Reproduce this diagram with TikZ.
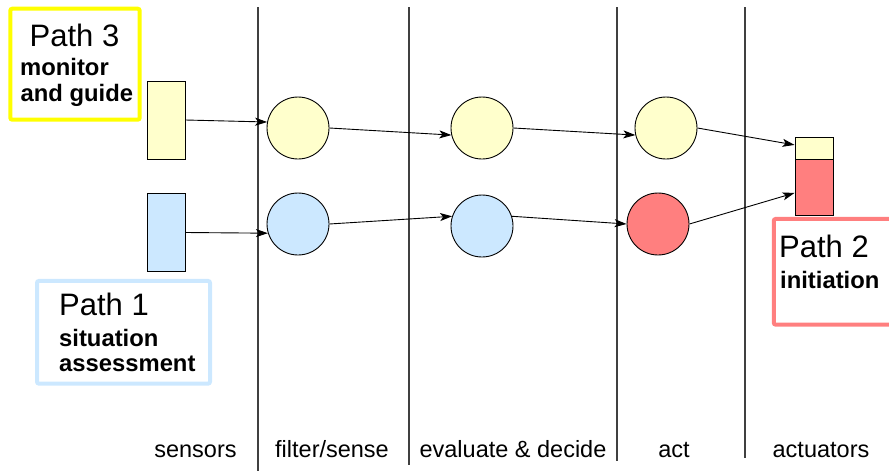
\documentclass[tikz,border=0pt]{standalone}
\usepackage{fontspec}
\setmainfont{Liberation Sans}
\usetikzlibrary{arrows.meta}

\definecolor{paleyellow}{HTML}{FFFFCC}
\definecolor{paleblue}{HTML}{CCE8FF}
\definecolor{salmon}{HTML}{FF7F7F}
\definecolor{brightyellow}{HTML}{FFFF00}
\definecolor{lanegray}{HTML}{404040}

\tikzset{
  lane/.style={draw=lanegray, line width=1.2pt},
  sensorbox/.style={draw=black, line width=0.9pt, minimum width=38pt, minimum height=78pt, inner sep=0pt},
  unit/.style={circle, draw=black, line width=0.9pt, minimum size=62pt, inner sep=0pt},
  actbox/.style={draw=black, line width=0.9pt, minimum width=38pt, inner sep=0pt},
  flow/.style={draw=black, line width=0.9pt, -{Stealth[length=12pt, width=8pt, inset=3pt]}},
  pathbox/.style={line width=4pt, rounded corners=2pt, inner sep=0pt},
  pathtitle/.style={anchor=base west, inner sep=0pt, font=\fontsize{31}{37}\selectfont},
  pathsub/.style={anchor=base west, inner sep=0pt, font=\fontsize{23.8}{28}\selectfont\bfseries},
  stage/.style={anchor=base, inner sep=0pt, font=\fontsize{23.5}{28}\selectfont},
}

\begin{document}
\begin{tikzpicture}[x=1pt, y=-1pt]
  \clip (0,0) rectangle (889,471);

  % stage separators
  \coordinate (l1t) at (258,7);   \coordinate (l1b) at (258,471);
  \coordinate (l2t) at (409,7);   \coordinate (l2b) at (409,465);
  \coordinate (l3t) at (617,7);   \coordinate (l3b) at (617,461);
  \coordinate (l4t) at (745,7);   \coordinate (l4b) at (745,458);
  \draw[lane] (l1t) -- (l1b);
  \draw[lane] (l2t) -- (l2b);
  \draw[lane] (l3t) -- (l3b);
  \draw[lane] (l4t) -- (l4b);

  % path legend boxes
  \node[pathbox, draw=brightyellow, minimum width=129.4pt, minimum height=111pt] (p3box) at (75,64.2) {};
  \node[pathbox, draw=paleblue, minimum width=173pt, minimum height=102.7pt] (p1box) at (123.5,332.3) {};
  \node[pathbox, draw=salmon, minimum width=126.3pt, minimum height=105.7pt] (p2box) at (836.9,271.8) {};

  \node[pathtitle] (p3t) at (29.5,46.7) {Path 3};
  \node[pathsub] (p3a) at (20,75) {monitor};
  \node[pathsub] (p3b) at (20.5,101.7) {and guide};

  \node[pathtitle] (p1t) at (59,315) {Path 1};
  \node[pathsub] (p1a) at (59,346) {situation};
  \node[pathsub] (p1b) at (59,371.7) {assessment};

  \node[pathtitle] (p2t) at (779,257.3) {Path 2};
  \node[pathsub] (p2a) at (780,288) {initiation};

  % sensors
  \node[sensorbox, fill=paleyellow] (s3) at (166,120) {};
  \node[sensorbox, fill=paleblue] (s1) at (166,232.5) {};

  % processing units
  \node[unit, fill=paleyellow] (f3) at (298,128) {};
  \node[unit, fill=paleblue]   (f1) at (298,224) {};
  \node[unit, fill=paleyellow] (e3) at (482,128) {};
  \node[unit, fill=paleblue]   (e1) at (482,226) {};
  \node[unit, fill=paleyellow] (a3) at (666,128) {};
  \node[unit, fill=salmon]     (a2) at (658,224) {};

  % actuator
  \node[actbox, fill=paleyellow, minimum height=22pt] (acty) at (814,148) {};
  \node[actbox, fill=salmon, minimum height=56pt] (actr) at (814,187) {};

  % signal flow
  \draw[flow] (s3.east) -- (f3.169);
  \draw[flow] (s1.east) -- (f1.197);
  \draw[flow] (f3.east) -- (e3.193);
  \draw[flow] (f1.east) -- (e1.162);
  \draw[flow] (e3.east) -- (a3.193);
  \draw[flow] (e1.18) -- (a2.west);
  \draw[flow] (a3.east) -- (acty.171);
  \draw[flow] (a2.east) -- (actr.197);

  % stage labels
  \node[stage] (lsens) at (195.5,457) {sensors};
  \node[stage] (lfilt) at (332,457) {filter/sense};
  \node[stage] (leval) at (513,457) {evaluate \& decide};
  \node[stage] (lact)  at (674,457) {act};
  \node[stage] (lactu) at (821,457) {actuators};
\end{tikzpicture}
\end{document}
